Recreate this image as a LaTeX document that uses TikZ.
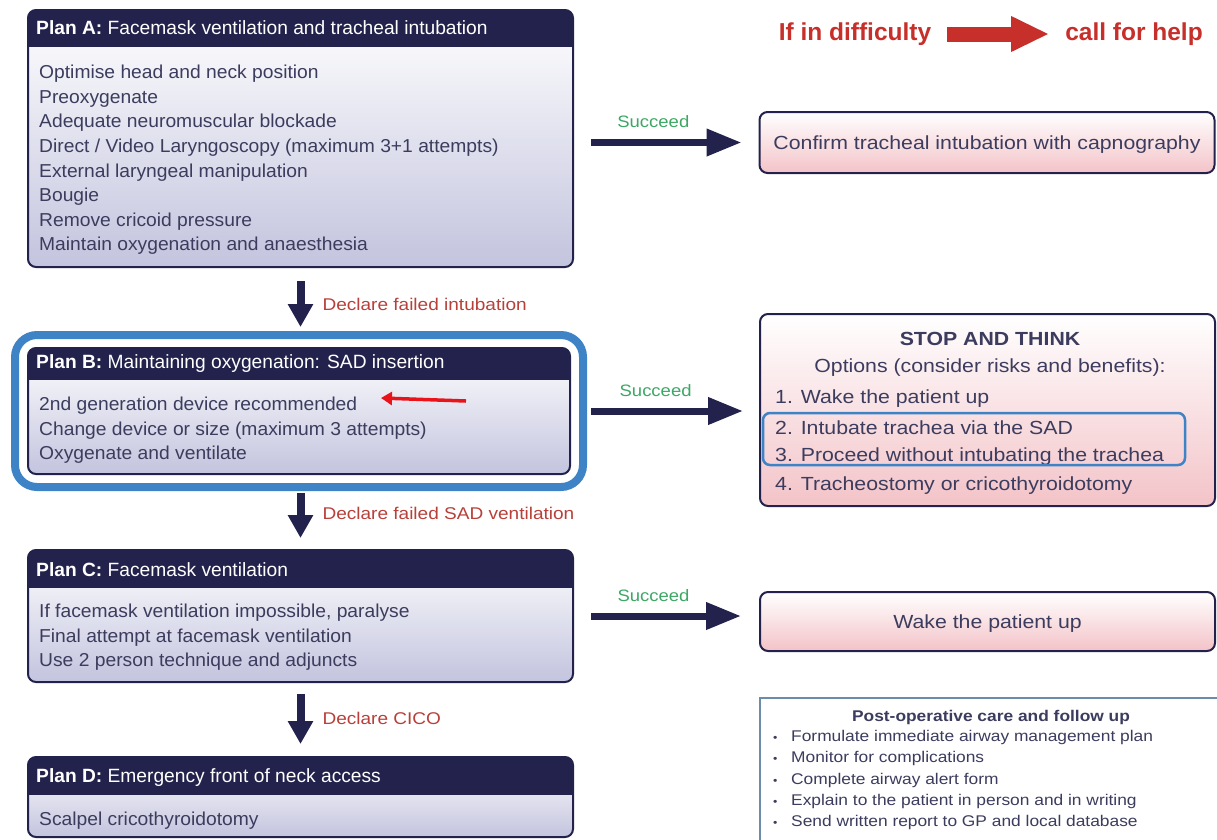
\documentclass[tikz,border=0pt]{standalone}
\usepackage{fontspec}
\setmainfont{Liberation Sans}
\newfontfamily\leftfont[FakeStretch=1.03]{Liberation Sans}
\newfontfamily\widefont[FakeStretch=1.12]{Liberation Sans}
\usetikzlibrary{arrows.meta,fit,positioning}
\definecolor{navy}{HTML}{22224C}
\definecolor{bodytext}{HTML}{3C3C5E}
\definecolor{lavender}{HTML}{C3C4DE}
\definecolor{pinkish}{HTML}{F3C3C8}
\definecolor{declare}{HTML}{B8403A}
\definecolor{okgreen}{HTML}{3DA866}
\definecolor{hiblue}{HTML}{3E83C5}
\definecolor{alertred}{HTML}{C62F2A}
\definecolor{pointred}{HTML}{E8141A}
\definecolor{postline}{HTML}{6D8CAA}
\newcommand{\bul}{\makebox[18pt][l]{\fontsize{11pt}{11pt}\selectfont\textbullet}}

\begin{document}
\begin{tikzpicture}[x=1pt, y=-1pt,
  plan/.style = {shape=rectangle, draw=navy, line width=2pt, rounded corners=8pt, top color=white, bottom color=lavender, minimum width=545pt,
    path picture={\fill[navy, sharp corners] (path picture bounding box.north west) rectangle ([yshift=-#1]path picture bounding box.north east);}},
  planhead/.style = {anchor=west, inner sep=0pt, text=white, font=\fontsize{19.2pt}{23pt}\selectfont},
  planlist/.style = {anchor=north west, inner sep=0pt, align=left, text=bodytext, font=\leftfont\fontsize{18.7pt}{24.6pt}\selectfont},
  outcome/.style = {shape=rectangle, draw=navy, line width=2pt, rounded corners=8pt, top color=white, bottom color=pinkish, minimum width=455pt, text depth=0pt, text=bodytext, font=\widefont\fontsize{19pt}{23pt}\selectfont},
  option/.style = {anchor=west, inner sep=0pt, text=bodytext, font=\widefont\fontsize{19pt}{23pt}\selectfont},
  failarrow/.style = {draw=navy, line width=8pt, -{Triangle[length=23pt,width=24pt]}},
  okarrow/.style = {draw=navy, line width=7pt, -{Triangle[length=35pt,width=26pt]}},
  declarelabel/.style = {inner sep=0pt, text=declare, font=\widefont\fontsize{17pt}{20pt}\selectfont},
  succeedlabel/.style = {inner sep=0pt, text=okgreen, font=\widefont\fontsize{16.5pt}{20pt}\selectfont},
  hilite/.style = {shape=rectangle, draw=hiblue, rounded corners=#1}]
  \clip (0,0) rectangle (1217,839);
  \fill[white] (0,0) rectangle (1217,839);

  % left column
  \node[plan=37pt, minimum height=257pt] (planA) at (300.5,138.5) {};
  \node[planhead] (planAhead) at ([xshift=9pt,yshift=-19pt]planA.north west) {\textbf{Plan A:} Facemask ventilation and tracheal intubation};
  \node[planlist] (planAlist) at (39,65) {Optimise head and neck position\\Preoxygenate\\Adequate neuromuscular blockade\\Direct / Video Laryngoscopy (maximum 3+1 attempts)\\External laryngeal manipulation\\Bougie\\Remove cricoid pressure\\Maintain oxygenation and anaesthesia};

  \node[plan=32pt, minimum width=542pt, minimum height=126pt] (planB) at (299,411) {};
  \node[planhead] (planBhead) at ([xshift=9pt,yshift=-17pt]planB.north west) {\textbf{Plan B:} Maintaining oxygenation: SAD insertion};
  \node[planlist] (planBlist) at (39,397) {2nd generation device recommended\\Change device or size (maximum 3 attempts)\\Oxygenate and ventilate};
  \node[hilite=22pt, line width=8pt, fit=(planB), inner sep=12pt] (planBmark) {};

  \node[plan=38pt, minimum height=132pt] (planC) at (300.5,616) {};
  \node[planhead] (planChead) at ([xshift=9pt,yshift=-21pt]planC.north west) {\textbf{Plan C:} Facemask ventilation};
  \node[planlist] (planClist) at (39,604) {If facemask ventilation impossible, paralyse\\Final attempt at facemask ventilation\\Use 2 person technique and adjuncts};

  \node[plan=38pt, minimum height=80pt] (planD) at (300.5,797) {};
  \node[planhead] (planDhead) at ([xshift=9pt,yshift=-22pt]planD.north west) {\textbf{Plan D:} Emergency front of neck access};
  \node[planlist] (planDlist) at (39,812) {Scalpel cricothyroidotomy};

  \coordinate (ptrtail) at (466,401);
  \coordinate (ptrtip) at (381,398);
  \draw[pointred, line width=3.5pt, -{Triangle[length=11pt,width=13pt]}] (ptrtail) -- (ptrtip);

  \draw[failarrow, shorten <=13pt, shorten >=4pt] (planA.south) -- (planA.south |- planBmark.north)
    node[declarelabel, pos=0.58, right=18pt] {Declare failed intubation};
  \draw[failarrow, shorten <=2pt, shorten >=11pt] (planA.south |- planBmark.south) -- (planA.south |- planC.north)
    node[declarelabel, pos=0.39, right=18pt] {Declare failed SAD ventilation};
  \draw[failarrow, shorten <=11pt, shorten >=12pt] (planC.south) -- (planD.north)
    node[declarelabel, pos=0.48, right=18pt] {Declare CICO};

  % right column
  \node[inner sep=0pt, text=alertred, font=\bfseries\fontsize{24.5pt}{28pt}\selectfont] (difficulty) at (855,34) {If in difficulty};
  \node[inner sep=0pt, text=alertred, font=\bfseries\fontsize{24.5pt}{28pt}\selectfont] (help) at (1134,34) {call for help};
  \draw[alertred, line width=15pt, -{Triangle[length=38pt,width=33pt]}, shorten <=16pt, shorten >=16pt] (difficulty) -- (help);

  \node[outcome, minimum height=61pt] (confirm) at (987,142.5) {Confirm tracheal intubation with capnography};
  \node[outcome, minimum height=192pt] (stop) at (987.5,410) {};
  \node[inner sep=0pt, text=bodytext, font=\widefont\bfseries\fontsize{19pt}{23pt}\selectfont] (stoptitle) at (990,339) {STOP AND THINK};
  \node[option, anchor=center] (stopnote) at (990,368) {Options (consider risks and benefits):};
  \node[option] (opt1) at (775,399) {1. Wake the patient up};
  \node[option] (opt2) at (775,428) {2. Intubate trachea via the SAD};
  \node[option] (opt3) at (775,457) {3. Proceed without intubating the trachea};
  \node[option] (opt4) at (775,486) {4. Tracheostomy or cricothyroidotomy};
  \node[hilite=7pt, line width=2.5pt, minimum width=422pt, minimum height=52pt] (optmark) at (974,439) {};

  \node[outcome, minimum height=59pt] (wake) at (987.5,621.5) {Wake the patient up};

  \draw[okarrow, shorten <=17pt, shorten >=17pt] (planA.east |- confirm.west) -- (confirm.west)
    node[succeedlabel, pos=0.43, above=11pt] {Succeed};
  \draw[okarrow, shorten <=20pt, shorten >=16pt] (planB.east) -- (planB.east -| stop.west)
    node[succeedlabel, pos=0.45, above=11pt] {Succeed};
  \draw[okarrow, shorten <=17pt, shorten >=18pt] (planC.east) -- (planC.east -| wake.west)
    node[succeedlabel, pos=0.43, above=11pt] {Succeed};

  \node[shape=rectangle, draw=postline, line width=1.3pt, fill=white, minimum width=470pt, minimum height=150pt] (postop) at (995,773) {};
  \node[inner sep=0pt, text=bodytext, font=\widefont\bfseries\fontsize{15.5pt}{18pt}\selectfont] (posttitle) at (991,717) {Post-operative care and follow up};
  \node[anchor=north west, inner sep=0pt, align=left, text=bodytext, font=\widefont\fontsize{15.5pt}{21.3pt}\selectfont] (postlist) at (773,730)
    {\bul Formulate immediate airway management plan\\\bul Monitor for complications\\\bul Complete airway alert form\\\bul Explain to the patient in person and in writing\\\bul Send written report to GP and local database};
\end{tikzpicture}
\end{document}
